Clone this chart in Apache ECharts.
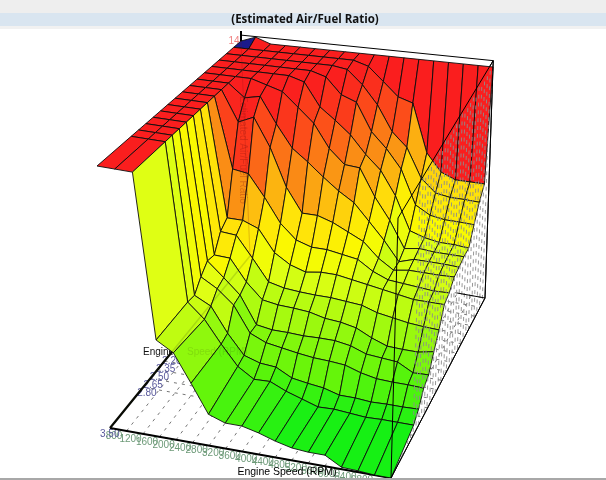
<!DOCTYPE html>
<html><head><meta charset="utf-8">
<style>html,body{margin:0;padding:0;background:#fff}#c{width:606px;height:480px}</style>
<script src="https://cdn.jsdelivr.net/npm/echarts@6/dist/echarts.min.js"></script>
</head><body><div id="c"></div>
<script>
const rpm=[800,1200,1600,2000,2400,2800,3200,3600,4000,4400,4800,5200,5600,6000,6400,6800,7200,7600];
const load=[0.55,0.70,0.85,1.00,1.15,1.30,1.45,1.60,1.75,1.90,2.05,2.20,2.35,2.50,2.65,2.80,3.50];
const loadLabels=['3.50','2.80','2.65','2.50','2.35','2.20'];
const afr055=[14,14.1,14,14,14,14,14,14,14,14,14,14,14,14,14,14,14,14];
const afr070=[14,14,14,14,14,14,14,14,14,13.92,13.68,13.44,13.36,12.52,12.22,12.12,12.12,12.12];
const afr085=[14,14,14,14,14,14,14,14,13.96,13.72,13.4,12.96,12.72,12.22,12.0,11.96,11.96,11.95];
const afr100=[14,14,14,14,14,14,14,13.92,13.64,13.54,13.06,12.8,12.48,11.9,11.76,11.72,11.72,11.71];
const afr115=[14,14,14,14,14,14,13.92,13.52,13.32,13.1,12.8,12.56,12.16,11.6,11.52,11.48,11.48,11.46];
const afr130=[14,14,14,14,13.92,13.84,13.6,13.36,12.96,12.72,12.7,12.24,11.88,11.44,11.48,11.46,11.46,11.46];
const afr145=[14,14,14,13.78,13.84,13.4,13.02,12.82,12.6,12.4,12.24,11.96,11.68,11.36,11.44,11.44,11.44,11.43];
const afr160=[14,14,14,13.48,13.6,13.12,12.48,12.08,12.08,12.0,11.88,11.76,11.52,11.36,11.4,11.4,11.4,11.41];
const afr175=[14,14,14,12.8,12.76,12.4,12.0,11.76,11.68,11.68,11.64,11.6,11.44,11.34,11.32,11.3,11.28,11.29];
const afr190=[14,14,14,12.1,12.1,12.0,11.64,11.48,11.4,11.44,11.44,11.4,11.36,11.32,11.28,11.24,11.24,11.24];
const afr205=[14,14,14,12.0,11.98,11.64,11.29,11.23,11.21,11.2,11.2,11.18,11.16,11.08,11.04,11.0,10.98,10.97];
const afr220=[14,14,14,11.74,11.73,11.38,11.13,11.09,11.08,11.06,11.0,10.98,10.93,10.81,10.72,10.71,10.71,10.76];
const afr235=[14,14,14,11.77,11.54,11.3,10.86,10.82,10.82,10.81,10.82,10.82,10.78,10.69,10.67,10.65,10.52,10.53];
const afr250=[14,14,14,11.64,11.49,11.27,10.86,10.75,10.71,10.67,10.64,10.63,10.61,10.53,10.48,10.47,10.47,10.46];
const afr265=[14,14,14,11.47,11.34,10.95,10.64,10.56,10.54,10.41,10.37,10.34,10.27,10.27,10.25,10.26,10.26,10.27];
const afr280=[14,14,14,11.49,11.26,10.91,10.6,10.44,10.45,10.34,10.26,10.18,10.19,10.17,10.15,10.16,10.16,10.16];
const afr350=[14,14,14,11.48,11.33,10.91,10.48,10.39,10.39,10.33,10.25,10.19,10.17,10.17,10.03,10.02,10,10];
const afr=[afr055,afr070,afr085,afr100,afr115,afr130,afr145,afr160,afr175,afr190,afr205,afr220,afr235,afr250,afr265,afr280,afr350];

const zMin=10,zMax=14;
const rMin=rpm[0],rMax=rpm[rpm.length-1],lMin=load[0],lMax=load[load.length-1];
// view: screen position of the eight corners of the plot box
const floorBL=[250,256],floorBR=[485,298],floorFL=[110,428],floorFR=[391,478];
const topBL=[241,41],topBR=[493,67],topFL=[97,166],topFR=[398,218];
function bil(a,b,c,d,v,u,k){return (a[k]*(1-v)+b[k]*v)*(1-u)+(c[k]*(1-v)+d[k]*v)*u;}
function proj(r,l,z){
  const v=(r-rMin)/(rMax-rMin),u=(l-lMin)/(lMax-lMin),w=(z-zMin)/(zMax-zMin);
  const out=[];
  for(let k=0;k<2;k++){
    const f=bil(floorBL,floorBR,floorFL,floorFR,v,u,k),t=bil(topBL,topBR,topFL,topFR,v,u,k);
    out.push(f+(t-f)*w);
  }
  return out;
}
const stops=[[0,[10,240,10]],[0.04,[22,240,20]],[0.15,[100,245,10]],[0.376,[225,255,20]],[0.43,[250,250,0]],[0.53,[255,225,10]],[0.68,[250,150,20]],[0.82,[252,85,25]],[0.95,[250,35,30]],[1,[250,30,30]]];
function color(z){
  if(z>14.05) return '#1a1a8c';
  const w=Math.max(0,Math.min(1,(z-zMin)/(zMax-zMin)));
  for(let i=1;i<stops.length;i++){
    if(w<=stops[i][0]){
      const a=stops[i-1],b=stops[i],t=(w-a[0])/(b[0]-a[0]);
      return 'rgb('+a[1].map((x,k)=>Math.round(x+(b[1][k]-x)*t)).join(',')+')';
    }
  }
  return 'rgb(250,30,30)';
}
const cells=[];
for(let j=0;j<load.length-1;j++) for(let i=0;i<rpm.length-1;i++) cells.push([i,j]);
const axisX={type:'value',min:0,max:606,show:false};
const axisY={type:'value',min:0,max:480,inverse:true,show:false};

function seg(api,a,b,style){
  const p=api.coord(a),q=api.coord(b);
  return {type:'line',shape:{x1:p[0],y1:p[1],x2:q[0],y2:q[1]},style:style};
}
function poly(api,pts,style){return {type:'polygon',shape:{points:pts.map(p=>api.coord(p))},style:style};}
function txt(api,p,text,fill,font,align,opacity,rot){
  const c=api.coord(p);
  return {type:'text',x:c[0],y:c[1],rotation:rot||0,style:{text:text,fill:fill,font:font,align:align||'center',verticalAlign:'middle',opacity:opacity==null?1:opacity}};
}
const lf='10px "Liberation Sans"';
const boxTop=zMax+0.11;
const under={type:'custom',coordinateSystem:'cartesian2d',silent:true,clip:false,z:2,data:[[0,0]],encode:{x:0,y:1},animation:false,
 renderItem(params,api){
  const ch=[];
  ch.push(poly(api,[proj(rMax,lMin,zMin),proj(rMax,lMax,zMin),proj(rMax,lMax,zMax),proj(rMax,lMin,boxTop)],{fill:'#fff',stroke:'#000',lineWidth:1}));
  rpm.forEach(r=>{ch.push(seg(api,proj(r,lMax,zMin),proj(r,lMin,zMin),{stroke:'#777',lineWidth:1,lineDash:[3,5]}));});
  load.forEach(l=>{ch.push(seg(api,proj(rMin,l,zMin),proj(rMax,l,zMin),{stroke:'#777',lineWidth:1,lineDash:[3,5]}));});
  rpm.forEach(r=>{const p=proj(r,lMax,zMin);ch.push(txt(api,[p[0]+4,p[1]+8],String(r),'#6d9a78',lf));});
  loadLabels.forEach(s=>{
    const l=+s,p=proj(rMin,l,zMin);
    const pos=l>3?[p[0]-10,p[1]+6]:[p[0]-6-(2.8-l)*6,p[1]+6+(2.8-l)*5];
    ch.push(txt(api,pos,s,'#5a5a9c',lf,'left'));
  });
  ch.push(seg(api,proj(rMin,lMax,zMin),proj(rMax,lMax,zMin),{stroke:'#000',lineWidth:2.2}));
  ch.push(seg(api,proj(rMin,lMax,zMin),proj(rMin,lMin,zMin),{stroke:'#000',lineWidth:2.2}));
  ch.push(txt(api,[143,352],'Engine Speed (RPM)','#111',lf,'left'));
  ch.push(seg(api,proj(rMin,lMin,boxTop),proj(rMax,lMin,boxTop),{stroke:'#000',lineWidth:1}));
  ch.push(seg(api,proj(rMin,lMin,zMax),[241,31],{stroke:'#000',lineWidth:2}));
  ch.push(txt(api,[234,41],'14','#f08080',lf));
  return {type:'group',children:ch};
 }};
const surface={type:'custom',coordinateSystem:'cartesian2d',silent:true,clip:false,z:3,data:cells,encode:{x:0,y:1},animation:false,
 renderItem(params,api){
  const i=api.value(0),j=api.value(1);
  const pts=[proj(rpm[i],load[j],afr[j][i]),proj(rpm[i+1],load[j],afr[j][i+1]),proj(rpm[i+1],load[j+1],afr[j+1][i+1]),proj(rpm[i],load[j+1],afr[j+1][i])];
  return poly(api,pts,{fill:color(afr[j][i+1]),stroke:'#0c0c0c',lineWidth:0.9,lineJoin:'round'});
 }};
const over={type:'custom',coordinateSystem:'cartesian2d',silent:true,clip:false,z:4,data:[[0,0]],encode:{x:0,y:1},animation:false,
 renderItem(params,api){
  const ch=[];
  // tiny tick text on the right-hand wall reads as gray dashes
  const dl=(lMax-lMin)/34,dz=(zMax-zMin)/30;
  for(let a=0;a<=34;a++){
    const l=lMin+a*dl,ll=(l-lMin)/(lMax-lMin);
    for(let b=0;b<30;b++){
      const z=zMin+(b+((a%2)?0.35:0))*dz+((a%3)*0.03);
      if(ll>0.77 && z>zMin+0.14*(1-(ll-0.77)/0.23)) continue;
      ch.push(seg(api,proj(rMax,l,z),proj(rMax,l,z+dz*0.5),{stroke:'#8c8c8c',lineWidth:0.9}));
    }
  }
  ch.push(poly(api,[proj(rMax,lMin,zMin),proj(rMax,lMax,zMin),proj(rMax,lMax,zMax),proj(rMax,lMin,boxTop)],{fill:'none',stroke:'#000',lineWidth:1}));
  ch.push(seg(api,proj(6800,lMin,zMin),proj(rMax,lMin,zMin),{stroke:'#000',lineWidth:1}));
  ch.push(seg(api,proj(rMin,lMin,zMax),proj(rMin,lMin,zMin),{stroke:'#801010',lineWidth:1,opacity:0.22}));
  ch.push(seg(api,proj(rMin,lMin,zMin),proj(rMin,lMax,zMin),{stroke:'#304010',lineWidth:1.5,opacity:0.18}));
  ch.push(txt(api,[243,150],'Estimated Air/Fuel Ratio','#801010',lf,'center',0.28,-Math.PI/2));
  ch.push(txt(api,[187,352],'Speed (RPM)','#304010',lf,'left',0.15));
  ch.push(txt(api,[287,472],'Engine Speed (RPM)','#000','10.5px "Liberation Sans"'));
  return {type:'group',children:ch};
 }};
const chart=echarts.init(document.getElementById('c'),null,{renderer:'canvas'});
chart.setOption({
 animation:false,
 backgroundColor:'#fff',
 grid:{left:0,right:0,top:0,bottom:0},
 xAxis:axisX,yAxis:axisY,
 graphic:[
  {type:'rect',shape:{x:0,y:0,width:606,height:13},style:{fill:'#eeeeee'},z:1},
  {type:'rect',shape:{x:0,y:13,width:606,height:13},style:{fill:'#d9e5f0'},z:1},
  {type:'rect',shape:{x:0,y:26,width:606,height:3},style:{fill:'#f1f1f1'},z:1},
  {type:'text',x:305,y:20,style:{text:'(Estimated Air/Fuel Ratio)',fill:'#111',font:'bold 11.5px "Open Sans"',align:'center',verticalAlign:'middle'},z:10},
  {type:'rect',shape:{x:0,y:478,width:606,height:2},style:{fill:'#a8a8a8'},z:10}
 ],
 series:[under,surface,over]
});
</script></body></html>
